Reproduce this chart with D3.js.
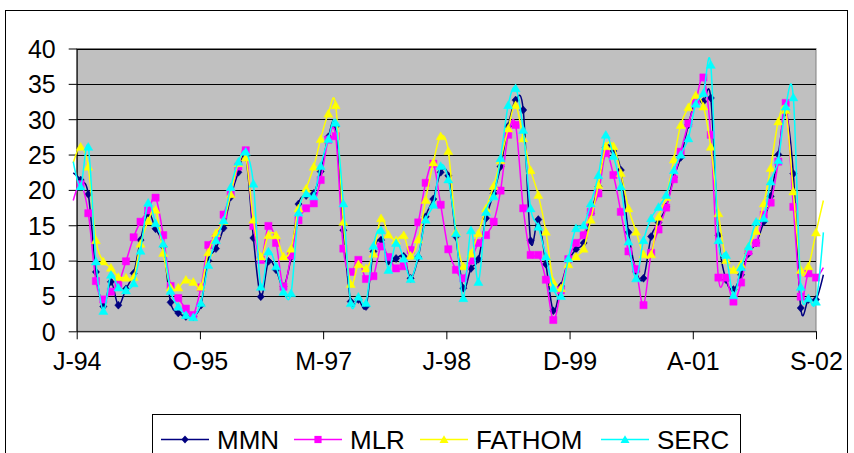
<!DOCTYPE html>
<html><head><meta charset="utf-8">
<script src="https://cdn.jsdelivr.net/npm/d3@7"></script>
<style>html,body{margin:0;padding:0;background:#fff}svg{display:block}</style>
</head><body><svg id="c" width="854" height="453"></svg>
<script>
// Monthly samples, Jun 1994 .. Oct 2002 (first and last lie just outside the axis range)
const months = d3.utcMonth.range(new Date(Date.UTC(1994,5,1)), new Date(Date.UTC(2002,10,1)));
const mmn = [22.4,21.4,19.4,8.4,3.5,7.0,3.7,6.0,8.2,12.9,
 16.7,14.5,12.0,4.1,2.6,2.1,2.1,3.7,10.0,11.7,
 14.6,19.0,22.5,24.8,13.2,4.9,9.9,8.7,6.3,10.5,
 18.0,19.2,19.5,22.6,27.5,29.0,14.3,4.2,4.5,3.5,
 11.3,12.9,9.9,10.3,10.6,7.5,10.5,16.2,18.7,22.5,
 22.0,13.4,6.1,8.9,10.2,16.0,19.5,23.3,29.0,32.7,
 31.3,12.8,15.8,9.5,2.9,6.4,9.9,11.6,12.5,16.7,
 20.5,26.0,25.5,22.8,14.0,8.5,7.5,13.4,15.4,17.6,
 21.8,24.6,29.2,32.7,32.5,33.0,13.6,7.3,5.9,8.0,
 11.0,12.5,15.5,19.1,25.0,31.0,22.3,3.3,4.5,4.5,
 8.0];
const mlr = [18.5,20.8,16.7,7.1,4.5,5.6,6.7,9.9,13.3,15.5,
 17.1,18.9,13.6,6.4,4.7,3.2,2.3,6.2,12.2,13.2,
 16.5,19.5,23.3,25.6,14.9,10.1,14.9,12.5,6.3,10.7,
 15.7,17.4,18.1,21.4,27.1,27.6,11.7,8.4,10.1,7.4,
 7.8,12.0,10.5,8.9,9.2,11.5,15.4,21.0,23.7,17.9,
 11.6,8.7,7.5,10.0,12.5,13.6,15.5,19.9,27.8,29.2,
 17.4,10.8,10.8,7.3,1.6,5.8,10.2,12.5,13.6,16.9,
 19.5,25.2,22.1,16.9,11.3,8.8,3.7,11.1,14.4,17.5,
 21.5,25.4,29.4,32.5,35.9,27.8,7.6,7.6,4.2,6.9,
 11.3,12.5,16.5,18.2,24.0,32.3,17.6,4.9,8.2,7.6,
 9.0];
const fathom = [23.8,26.1,23.3,12.9,9.9,9.0,7.7,7.6,7.7,12.4,
 15.6,17.2,11.1,6.2,6.2,7.3,7.0,6.3,11.2,13.9,
 15.6,19.4,23.8,24.6,15.8,10.6,13.6,13.6,10.6,11.7,
 17.4,20.2,23.3,27.2,30.8,32.0,15.5,6.7,9.5,8.9,
 11.0,16.0,13.7,12.9,13.6,10.7,13.0,18.6,23.9,27.6,
 25.5,14.1,9.2,11.0,13.9,17.4,20.6,24.2,28.7,32.0,
 27.3,22.8,19.3,14.1,7.0,6.1,9.5,10.6,11.7,15.8,
 20.7,26.2,26.2,22.4,17.4,14.1,10.9,10.9,16.2,19.0,
 24.3,29.2,31.7,33.4,31.8,26.1,16.7,10.1,8.7,9.5,
 12.0,14.2,18.1,23.1,29.7,31.3,19.8,8.7,9.2,14.0,
 18.5];
const serc = [24.0,20.5,26.1,9.9,2.9,8.0,6.2,5.8,6.8,11.4,
 18.2,15.3,12.4,5.7,3.5,2.3,2.0,4.0,9.4,12.9,
 15.7,20.4,24.0,25.4,20.9,6.3,11.3,9.2,5.6,5.4,
 16.8,19.5,19.1,23.4,27.2,29.5,18.1,4.0,4.9,4.0,
 12.1,14.3,8.7,12.5,10.3,7.4,10.7,15.8,17.9,23.4,
 21.5,13.9,4.7,14.3,7.0,16.9,19.1,24.5,32.0,34.4,
 28.5,17.4,14.8,10.6,6.1,5.0,10.3,14.6,15.0,18.1,
 22.1,27.8,24.8,20.5,12.7,7.5,12.9,16.0,17.6,19.3,
 22.8,25.0,27.3,32.2,33.7,37.7,12.9,10.8,5.1,9.1,
 12.0,15.5,16.0,21.2,24.2,31.8,33.1,6.3,4.7,4.2,
 14.0];
const seriesNames = ["MMN","MLR","FATHOM","SERC"];
const tickLabels = ["J-94","O-95","M-97","J-98","D-99","A-01","S-02"];
const yTicks = [0,5,10,15,20,25,30,35,40];

const axisStart = new Date(Date.UTC(1994,5,15));
const axisEnd = new Date(Date.UTC(2002,8,1));
const tickStepDays = 500;

const series = [
  {name: seriesNames[0], values: mmn, color: "#000080", marker: "diamond"},
  {name: seriesNames[1], values: mlr, color: "#FF00FF", marker: "square"},
  {name: seriesNames[2], values: fathom, color: "#FFFF00", marker: "triangle"},
  {name: seriesNames[3], values: serc, color: "#00FFFF", marker: "triangle"}
];

const svg = d3.select("#c");
const L = 76.7, R = 816, T = 48.5, B = 331.3;
const font = "'Liberation Sans', Arial, sans-serif";

// outer chart border
svg.append("rect").attr("x",5.5).attr("y",10.5).attr("width",842).attr("height",460)
  .attr("fill","#fff").attr("stroke","#000").attr("stroke-width",1);

const x = d3.scaleUtc().domain([axisStart, axisEnd]).range([L, R]);
const y = d3.scaleLinear().domain([0, 40]).range([B, T]);

// plot area
svg.append("rect").attr("x",L).attr("y",T).attr("width",R-L).attr("height",B-T)
  .attr("fill","#C0C0C0").attr("stroke","#808080").attr("stroke-width",1);

// gridlines
svg.append("g").selectAll("line").data(yTicks.filter(d=>d>0)).join("line")
  .attr("x1",L).attr("x2",R).attr("y1",d=>Math.round(y(d))+0.5).attr("y2",d=>Math.round(y(d))+0.5)
  .attr("stroke","#000").attr("stroke-width",1);

// y axis
const yAxis = d3.axisLeft(y).tickValues(yTicks).tickSize(8).tickSizeOuter(0).tickFormat(d3.format("d"));
const gy = svg.append("g").attr("transform",`translate(${L},0)`).call(yAxis);
gy.select(".domain").attr("stroke","#000");
gy.selectAll(".tick line").attr("stroke","#000");
gy.selectAll(".tick text").attr("font-family",font).attr("font-size",25).attr("fill","#000")
  .attr("x",-21).attr("dy","0.36em");

// x axis
const xTickValues = tickLabels.map((_,i)=> d3.utcDay.offset(axisStart, i*tickStepDays));
const xAxis = d3.axisBottom(x).tickValues(xTickValues).tickSize(8).tickSizeOuter(0)
  .tickFormat((d,i)=>tickLabels[i]);
const gx = svg.append("g").attr("transform",`translate(0,${B})`).call(xAxis);
gx.select(".domain").attr("stroke","#000");
gx.selectAll(".tick line").attr("stroke","#000");
gx.selectAll(".tick text").attr("font-family",font).attr("font-size",25).attr("fill","#000")
  .attr("y",39).attr("dy",0);

// markers
function markerPath(type){
  if(type==="diamond") return "M0,-4L3.6,0L0,4L-3.6,0Z";
  if(type==="square") return "M-3.6,-3.6H3.6V3.6H-3.6Z";
  return "M0,-4.2L4.5,3.6L-4.5,3.6Z";
}

const line = d3.line().x(d=>x(d.date)).y(d=>y(d.value)).curve(d3.curveCardinal.tension(0));

series.forEach(s=>{
  const pts = months.map((m,i)=>({date:m, value:s.values[i]}));
  svg.append("path").datum(pts).attr("d",line).attr("fill","none")
    .attr("stroke",s.color).attr("stroke-width",1.5);
  svg.append("g").selectAll("path").data(pts.filter(p=>p.date>=axisStart && p.date<=axisEnd)).join("path")
    .attr("transform",p=>`translate(${x(p.date)},${y(p.value)})`)
    .attr("d",markerPath(s.marker)).attr("fill",s.color).attr("stroke",s.color).attr("stroke-width",0.5);
});

// legend
const lg = svg.append("g");
lg.append("rect").attr("x",152.5).attr("y",414.5).attr("width",588).attr("height",50)
  .attr("fill","#fff").attr("stroke","#000").attr("stroke-width",1);
const legendX = [161, 294, 420, 601];
series.forEach((s,i)=>{
  const g = lg.append("g").attr("transform",`translate(${legendX[i]},439.5)`);
  g.append("line").attr("x1",0).attr("x2",48).attr("stroke",s.color).attr("stroke-width",1.5);
  g.append("path").attr("transform","translate(24,0)").attr("d",markerPath(s.marker)).attr("fill",s.color);
  g.append("text").attr("x",56).attr("y",9).attr("font-family",font).attr("font-size",26)
    .attr("fill","#000").text(s.name);
});
</script></body></html>
